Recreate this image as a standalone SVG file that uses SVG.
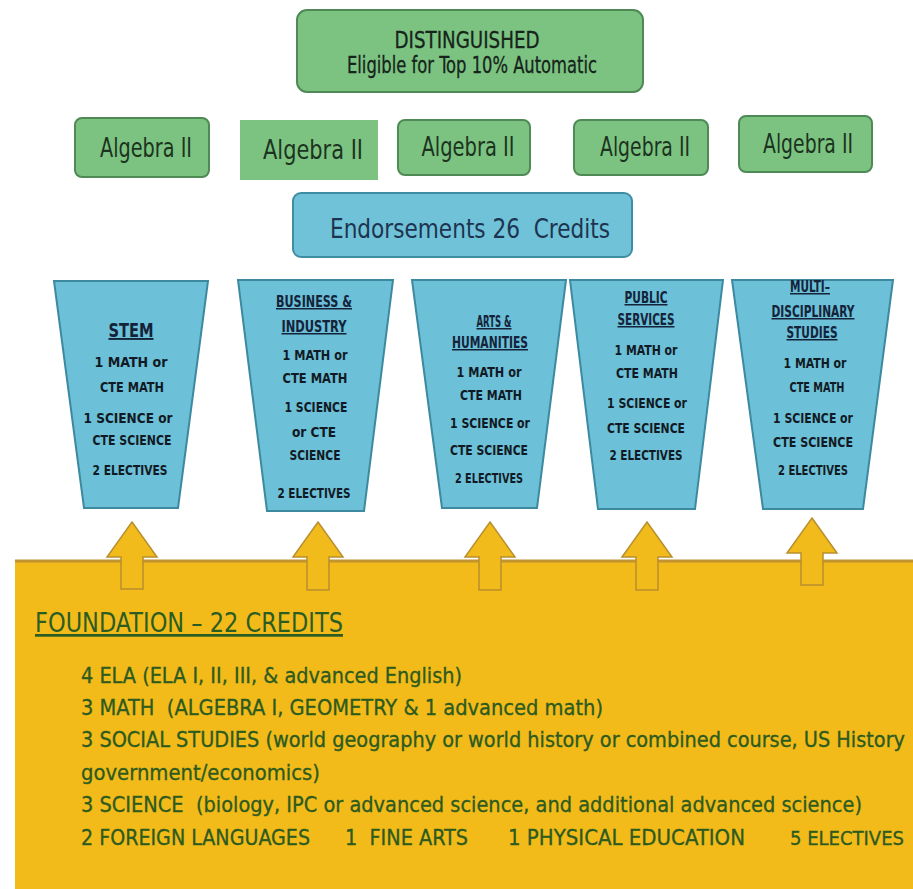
<svg xmlns="http://www.w3.org/2000/svg" width="913" height="889" viewBox="0 0 913 889">
<defs>
<style>
.gbox{fill:#7cc382;stroke:#4f8a56;stroke-width:2}
.bbox{fill:#70c2d8;stroke:#3f8da3;stroke-width:2}
.trap{fill:#6cc0d7;stroke:#3d89a0;stroke-width:2}
.arrow{fill:#f2bb1c;stroke:#b98f2e;stroke-width:1.5}
.nar{font-family:"Liberation Sans Narrow","DejaVu Sans Condensed","Liberation Sans",sans-serif}
.alg{font-size:27px;fill:#1c3320;text-anchor:middle}
.tt{font-size:15px;font-weight:bold;fill:#14233a;text-anchor:middle;text-decoration:underline}
.tb{font-size:14px;font-weight:bold;fill:#111a24;text-anchor:middle}
.fd{font-size:22px;fill:#2d5a1f;stroke:#2d5a1f;stroke-width:0.3;white-space:pre}
</style>
</defs>
<rect x="0" y="0" width="913" height="889" fill="#ffffff"/>

<g id="foundation">
<rect x="15" y="560" width="898" height="329" fill="#f2bb1a"/>
<line x1="15" y1="561" x2="913" y2="561" stroke="#c29331" stroke-width="3"/>
<text class="nar" x="35" y="632" font-size="27" fill="#2b5d22" text-decoration="underline" textLength="308" lengthAdjust="spacingAndGlyphs">FOUNDATION – 22 CREDITS</text>
<text class="nar fd" x="81" y="683" textLength="381" lengthAdjust="spacingAndGlyphs">4 ELA (ELA I, II, III, &amp; advanced English)</text>
<text class="nar fd" x="81" y="715" textLength="522" lengthAdjust="spacingAndGlyphs">3 MATH  (ALGEBRA I, GEOMETRY &amp; 1 advanced math)</text>
<text class="nar fd" x="81" y="747" textLength="824" lengthAdjust="spacingAndGlyphs" style="font-size:20.5px">3 SOCIAL STUDIES (world geography or world history or combined course, US History</text>
<text class="nar fd" x="81" y="780" textLength="239" lengthAdjust="spacingAndGlyphs">government/economics)</text>
<text class="nar fd" x="81" y="812" textLength="781" lengthAdjust="spacingAndGlyphs">3 SCIENCE  (biology, IPC or advanced science, and additional advanced science)</text>
<text class="nar fd" x="81" y="845" textLength="229" lengthAdjust="spacingAndGlyphs">2 FOREIGN LANGUAGES</text>
<text class="nar fd" x="345" y="845" textLength="123" lengthAdjust="spacingAndGlyphs">1  FINE ARTS</text>
<text class="nar fd" x="508" y="845" textLength="237" lengthAdjust="spacingAndGlyphs">1 PHYSICAL EDUCATION</text>
<text class="nar fd" x="790" y="845" textLength="114" lengthAdjust="spacingAndGlyphs" style="font-size:20px">5 ELECTIVES</text>
</g>

<g id="distinguished">
<rect class="gbox" x="297" y="10" width="346" height="82" rx="10"/>
<text class="nar" x="467" y="48" font-size="23" fill="#16241a" stroke="#16241a" stroke-width="0.3" text-anchor="middle" textLength="145" lengthAdjust="spacingAndGlyphs">DISTINGUISHED</text>
<text class="nar" x="472" y="73" font-size="23" fill="#16241a" stroke="#16241a" stroke-width="0.3" text-anchor="middle" textLength="250" lengthAdjust="spacingAndGlyphs">Eligible for Top 10% Automatic</text>
</g>

<g id="algebra1">
<rect class="gbox" x="75" y="118" width="134" height="59" rx="7"/>
<text class="nar alg" x="146" y="157" textLength="92" lengthAdjust="spacingAndGlyphs">Algebra II</text>
</g>
<g id="algebra2">
<rect x="240" y="120" width="138" height="60" fill="#7cc382"/>
<text class="nar alg" x="313" y="159" textLength="100" lengthAdjust="spacingAndGlyphs">Algebra II</text>
</g>
<g id="algebra3">
<rect class="gbox" x="398" y="120" width="132" height="55" rx="7"/>
<text class="nar alg" x="468" y="156" textLength="93" lengthAdjust="spacingAndGlyphs">Algebra II</text>
</g>
<g id="algebra4">
<rect class="gbox" x="574" y="120" width="134" height="55" rx="7"/>
<text class="nar alg" x="645" y="156" textLength="90" lengthAdjust="spacingAndGlyphs">Algebra II</text>
</g>
<g id="algebra5">
<rect class="gbox" x="739" y="116" width="133" height="56" rx="7"/>
<text class="nar alg" x="808" y="153" textLength="90" lengthAdjust="spacingAndGlyphs">Algebra II</text>
</g>

<g id="endorsements">
<rect class="bbox" x="293" y="193" width="339" height="64" rx="8"/>
<text class="nar" x="470" y="238" font-size="27" fill="#1d3450" text-anchor="middle" textLength="280" lengthAdjust="spacingAndGlyphs" style="white-space:pre">Endorsements 26  Credits</text>
</g>

<g id="stem">
<polygon class="trap" points="54,281 208,281 178,508 84,508"/>
<text class="nar tt" x="131" y="337" style="font-size:19px" textLength="45" lengthAdjust="spacingAndGlyphs">STEM</text>
<text class="nar tb" x="131" y="367" textLength="73" lengthAdjust="spacingAndGlyphs">1 MATH or</text>
<text class="nar tb" x="132" y="392" textLength="64" lengthAdjust="spacingAndGlyphs">CTE MATH</text>
<text class="nar tb" x="128" y="423" textLength="89" lengthAdjust="spacingAndGlyphs">1 SCIENCE or</text>
<text class="nar tb" x="132" y="445" textLength="79" lengthAdjust="spacingAndGlyphs">CTE SCIENCE</text>
<text class="nar tb" x="130" y="475" textLength="75" lengthAdjust="spacingAndGlyphs">2 ELECTIVES</text>
</g>

<g id="business">
<polygon class="trap" points="238,280 393,280 364,511 267,511"/>
<text class="nar tt" x="314" y="307" textLength="76" lengthAdjust="spacingAndGlyphs">BUSINESS &amp;</text>
<text class="nar tt" x="314" y="332" textLength="65" lengthAdjust="spacingAndGlyphs">INDUSTRY</text>
<text class="nar tb" x="315" y="360" textLength="65" lengthAdjust="spacingAndGlyphs">1 MATH or</text>
<text class="nar tb" x="315" y="383" textLength="65" lengthAdjust="spacingAndGlyphs">CTE MATH</text>
<text class="nar tb" x="316" y="412" textLength="63" lengthAdjust="spacingAndGlyphs">1 SCIENCE</text>
<text class="nar tb" x="314" y="437" textLength="44" lengthAdjust="spacingAndGlyphs">or CTE</text>
<text class="nar tb" x="315" y="460" textLength="51" lengthAdjust="spacingAndGlyphs">SCIENCE</text>
<text class="nar tb" x="314" y="498" textLength="73" lengthAdjust="spacingAndGlyphs">2 ELECTIVES</text>
</g>

<g id="arts">
<polygon class="trap" points="412,280 566,280 537,508 442,508"/>
<text class="nar tt" x="494" y="327" textLength="35" lengthAdjust="spacingAndGlyphs">ARTS &amp;</text>
<text class="nar tt" x="490" y="348" textLength="76" lengthAdjust="spacingAndGlyphs">HUMANITIES</text>
<text class="nar tb" x="489" y="377" textLength="65" lengthAdjust="spacingAndGlyphs">1 MATH or</text>
<text class="nar tb" x="491" y="400" textLength="62" lengthAdjust="spacingAndGlyphs">CTE MATH</text>
<text class="nar tb" x="490" y="428" textLength="80" lengthAdjust="spacingAndGlyphs">1 SCIENCE or</text>
<text class="nar tb" x="489" y="455" textLength="78" lengthAdjust="spacingAndGlyphs">CTE SCIENCE</text>
<text class="nar tb" x="489" y="483" textLength="68" lengthAdjust="spacingAndGlyphs">2 ELECTIVES</text>
</g>

<g id="public">
<polygon class="trap" points="570,280 723,280 695,509 598,509"/>
<text class="nar tt" x="646" y="303" textLength="43" lengthAdjust="spacingAndGlyphs">PUBLIC</text>
<text class="nar tt" x="646" y="325" textLength="57" lengthAdjust="spacingAndGlyphs">SERVICES</text>
<text class="nar tb" x="646" y="355" textLength="63" lengthAdjust="spacingAndGlyphs">1 MATH or</text>
<text class="nar tb" x="647" y="378" textLength="62" lengthAdjust="spacingAndGlyphs">CTE MATH</text>
<text class="nar tb" x="647" y="408" textLength="80" lengthAdjust="spacingAndGlyphs">1 SCIENCE or</text>
<text class="nar tb" x="646" y="433" textLength="78" lengthAdjust="spacingAndGlyphs">CTE SCIENCE</text>
<text class="nar tb" x="646" y="460" textLength="73" lengthAdjust="spacingAndGlyphs">2 ELECTIVES</text>
</g>

<g id="multidisciplinary">
<polygon class="trap" points="732,280 893,280 863,509 763,509"/>
<text class="nar tt" x="810" y="292" textLength="40" lengthAdjust="spacingAndGlyphs">MULTI–</text>
<text class="nar tt" x="813" y="317" textLength="83" lengthAdjust="spacingAndGlyphs">DISCIPLINARY</text>
<text class="nar tt" x="812" y="338" textLength="51" lengthAdjust="spacingAndGlyphs">STUDIES</text>
<text class="nar tb" x="815" y="368" textLength="63" lengthAdjust="spacingAndGlyphs">1 MATH or</text>
<text class="nar tb" x="817" y="392" textLength="55" lengthAdjust="spacingAndGlyphs">CTE MATH</text>
<text class="nar tb" x="813" y="423" textLength="80" lengthAdjust="spacingAndGlyphs">1 SCIENCE or</text>
<text class="nar tb" x="813" y="447" textLength="80" lengthAdjust="spacingAndGlyphs">CTE SCIENCE</text>
<text class="nar tb" x="813" y="475" textLength="70" lengthAdjust="spacingAndGlyphs">2 ELECTIVES</text>
</g>

<g id="connectors">
<polygon class="arrow" points="132,522 157,557 143,557 143,589 121,589 121,557 107,557"/>
<polygon class="arrow" points="318,522 343,557 329,557 329,590 307,590 307,557 293,557"/>
<polygon class="arrow" points="490,522 515,557 501,557 501,590 479,590 479,557 465,557"/>
<polygon class="arrow" points="647,522 672,557 658,557 658,590 636,590 636,557 622,557"/>
<polygon class="arrow" points="812,518 837,553 823,553 823,585 801,585 801,553 787,553"/>
</g>
</svg>
